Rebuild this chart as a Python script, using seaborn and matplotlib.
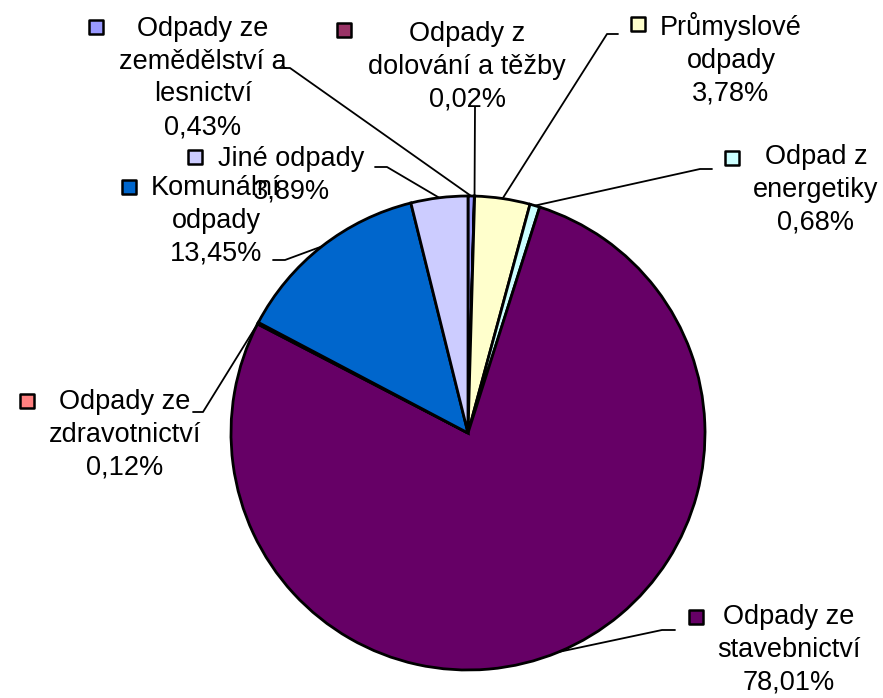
import numpy as np
import matplotlib
matplotlib.use("Agg")
import matplotlib.pyplot as plt
import seaborn as sns

# ---- data ----
categories = [
    "Odpady ze\nzemědělství a\nlesnictví",
    "Odpady z\ndolování a těžby",
    "Průmyslové\nodpady",
    "Odpad z\nenergetiky",
    "Odpady ze\nstavebnictví",
    "Odpady ze\nzdravotnictví",
    "Komunální\nodpady",
    "Jiné odpady",
]
values = [0.43, 0.02, 3.78, 0.68, 78.01, 0.12, 13.45, 3.89]
colors = ["#9999FF", "#993366", "#FFFFCC", "#CCFFFF", "#660066", "#FF8080", "#0066CC", "#CCCCFF"]

# ---- layout (pixel positions in the 883x698 canvas) ----
W, H = 883, 698
CX, CY, R = 468, 433, 237
text_centers = [(203, 78), (467, 67), (731, 59), (816, 190), (789, 650), (125, 435), (216, 221), (291, 175)]
marker_pos = [(96, 27), (344, 30), (638, 24), (732, 158), (696, 617), (27, 401), (129, 187), (195, 157)]
leader_pts = [
    [(280, 68), (290, 68)],
    [(475, 107)],
    [(618, 34), (607, 34)],
    [(712, 169), (700, 169)],
    [(675, 630), (662, 630)],
    [(193, 412), (203, 412)],
    [(273, 260), (285, 260)],
    [(375, 167), (387, 167)],
]

sns.set_style("white")
plt.rcParams["font.family"] = ["Liberation Sans", "DejaVu Sans"]

fig = plt.figure(figsize=(W / 100, H / 100), dpi=100)
ax = fig.add_axes([(CX - R) / W, (H - CY - R) / H, 2 * R / W, 2 * R / H])


def px(x, y):
    return (x - CX) / R, (CY - y) / R


wedges, _ = ax.pie(values, colors=colors, startangle=90, counterclock=False,
                   radius=1.0, wedgeprops=dict(edgecolor="black", linewidth=2.0))
ax.set_xlim(-1, 1)
ax.set_ylim(-1, 1)
ax.set_aspect("equal")
ax.axis("off")

for i, (name, v, col) in enumerate(zip(categories, values, colors)):
    pct = f"{v:.2f}".replace(".", ",") + "%"
    tx, ty = px(*text_centers[i])
    ax.text(tx, ty, name + "\n" + pct, ha="center", va="center", fontsize=19.5,
            linespacing=1.345, color="black", zorder=5)
    mx, my = px(*marker_pos[i])
    ax.scatter([mx], [my], marker="s", s=105, color=col, edgecolor="black",
               linewidth=1.8, clip_on=False, zorder=6)
    w = wedges[i]
    mid = np.deg2rad((w.theta1 + w.theta2) / 2)
    ex, ey = np.cos(mid), np.sin(mid)
    pts = [px(*p) for p in leader_pts[i]] + [(ex, ey)]
    xs, ys = zip(*pts)
    ax.plot(xs, ys, color="black", linewidth=1.3, clip_on=False, zorder=4)

fig.savefig("out.png", dpi=100, facecolor="white")
